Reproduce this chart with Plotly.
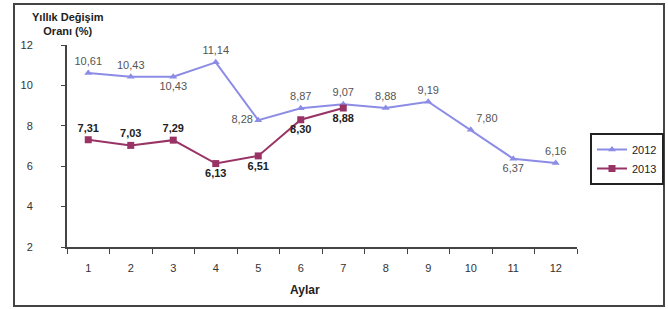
import plotly.graph_objects as go

months = list(range(1, 13))
tick_labels = [str(m) for m in months]
y2012 = [10.61, 10.43, 10.43, 11.14, 8.28, 8.87, 9.07, 8.88, 9.19, 7.80, 6.37, 6.16]
y2013 = [7.31, 7.03, 7.29, 6.13, 6.51, 8.30, 8.88]
pos2012 = ["top center", "top center", "bottom center", "top center", "middle left",
           "top center", "top center", "top center", "top center", "top right",
           "bottom center", "top center"]
pos2013 = ["top center", "top center", "top center", "bottom center", "bottom center",
           "bottom center", "bottom center"]

def fmt(v):
    return f"{v:.2f}".replace(".", ",")

fig = go.Figure()
fig.add_trace(go.Scatter(
    x=months, y=y2012, name="2012", mode="lines+markers+text",
    line=dict(color="#8C8CE6", width=2),
    marker=dict(symbol="triangle-up", size=7, color="#8C8CE6"),
    text=[fmt(v) for v in y2012], textposition=pos2012,
    textfont=dict(family="Liberation Sans, Arial", size=11, color="#555555"),
    cliponaxis=False,
))
fig.add_trace(go.Scatter(
    x=months[:len(y2013)], y=y2013, name="2013", mode="lines+markers+text",
    line=dict(color="#993366", width=2),
    marker=dict(symbol="square", size=7, color="#993366"),
    text=[f"<b>{fmt(v)}</b>" for v in y2013], textposition=pos2013,
    textfont=dict(family="Liberation Sans, Arial", size=11, color="#222222"),
    cliponaxis=False,
))

W, H = 668, 309
L, R, T, B = 67, 577, 45, 247
PR = 664  # right edge of paper area
paperw, ph = PR - L, B - T
def px(x): return (x - L) / paperw
def py(y): return (B - y) / ph

fig.update_layout(
    width=W, height=H,
    margin=dict(l=L, r=W - PR, t=T, b=H - B, autoexpand=False),
    paper_bgcolor="white", plot_bgcolor="white",
    font=dict(family="Liberation Sans, Arial", size=11, color="#333333"),
    showlegend=True,
    legend=dict(x=px(590), y=py(133), xanchor="left", yanchor="top",
                bordercolor="#222222", borderwidth=2, bgcolor="white",
                font=dict(size=11, color="#222222"), tracegroupgap=0,
                itemwidth=30),
    xaxis=dict(domain=[0, px(R)], range=[0.5, 12.5], tickmode="array", tickvals=months,
               ticktext=tick_labels,
               showgrid=False, zeroline=False, showline=True, linecolor="#444444", linewidth=2,
               ticks="", ticklabelstandoff=10,
               minor=dict(tick0=0.5, dtick=1, ticks="outside", ticklen=5, tickcolor="#444444",
                          tickwidth=1, showgrid=False),
               tickfont=dict(size=11, color="#333333")),
    yaxis=dict(range=[2, 12], tickmode="array", tickvals=[2, 4, 6, 8, 10, 12],
               showgrid=False, zeroline=False, showline=True, linecolor="#444444", linewidth=2,
               ticks="outside", ticklen=4, tickcolor="#444444", tickwidth=1,
               ticklabelstandoff=26,
               tickfont=dict(size=11, color="#333333")),
    shapes=[
        dict(type="rect", xref="paper", yref="paper",
             x0=px(14), x1=px(664), y0=py(306), y1=py(4),
             line=dict(color="#444444", width=2), fillcolor="rgba(0,0,0,0)", layer="above"),
        dict(type="rect", xref="paper", yref="paper",
             x0=px(13), x1=px(665), y0=py(5), y1=py(3),
             line=dict(width=0), fillcolor="#444444", layer="above"),
    ],
    annotations=[
        dict(text="<b>Yıllık Değişim<br>Oranı (%)</b>", xref="paper", yref="paper",
             x=px(68), y=py(24), xanchor="center", yanchor="middle", showarrow=False,
             font=dict(size=11, color="#222222"), align="center"),
        dict(text="<b>Aylar</b>", xref="paper", yref="paper",
             x=px(305), y=py(290), xanchor="center", yanchor="middle", showarrow=False,
             font=dict(size=12, color="#222222")),
    ],
)

fig.write_html("out.html", config={"displayModeBar": False},
               post_script="document.body.style.margin='0';document.body.style.overflow='hidden';")
